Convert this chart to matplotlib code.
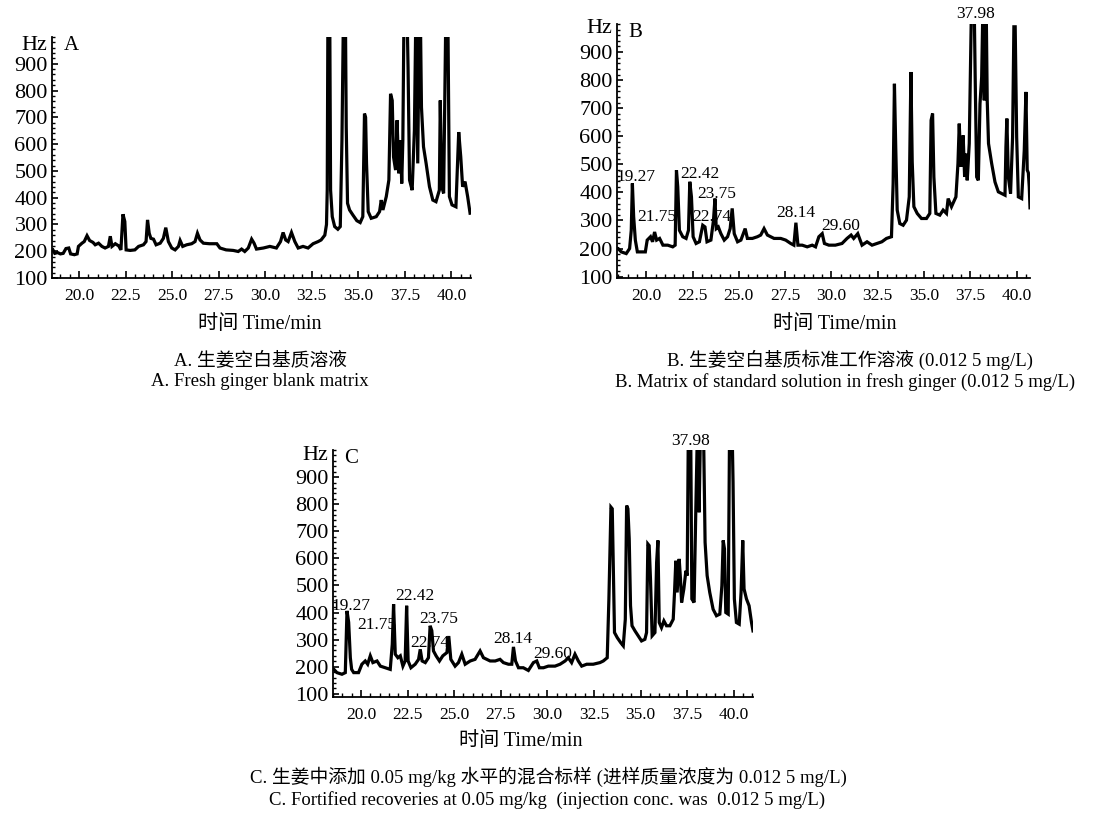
import numpy as np
import matplotlib
matplotlib.use('Agg')
import matplotlib.pyplot as plt
from matplotlib.ticker import MultipleLocator, FormatStrFormatter

plt.rcParams['font.family'] = ['Liberation Serif', 'Noto Sans CJK SC']
plt.rcParams['axes.unicode_minus'] = False

# === DATA ===
# A. blank matrix
t_a = [18.46, 18.6, 18.7, 18.85, 19.0, 19.15, 19.3, 19.45, 19.55, 19.75, 19.9, 19.97,
       20.16, 20.28, 20.43, 20.57, 20.75, 20.87, 21.05, 21.23, 21.4, 21.58, 21.68, 21.77,
       21.95, 22.13, 22.25, 22.36, 22.46, 22.53, 22.75, 23.0, 23.2, 23.46, 23.6, 23.68,
       23.77, 23.86, 24.0, 24.14, 24.36, 24.53, 24.66, 24.8, 24.98, 25.16, 25.34, 25.43,
       25.57, 25.78, 26.05, 26.23, 26.36, 26.5, 26.68, 27.0, 27.4, 27.57, 27.9, 28.28,
       28.55, 28.73, 28.9, 29.09, 29.27, 29.4, 29.53, 29.9, 30.25, 30.6, 30.82, 30.96,
       31.1, 31.23, 31.41, 31.59, 31.77, 32.03, 32.3, 32.57, 32.84, 33.0, 33.2, 33.29,
       33.33, 33.37, 33.46, 33.51, 33.6, 33.73, 33.9, 34.03, 34.12, 34.21, 34.3, 34.35,
       34.42, 34.53, 34.71, 34.92, 35.1, 35.24, 35.33, 35.39, 35.44, 35.53, 35.69, 35.96,
       36.14, 36.23, 36.32, 36.5, 36.64, 36.73, 36.82, 36.89, 37.0, 37.08, 37.17, 37.26,
       37.33, 37.39, 37.46, 37.53, 37.6, 37.67, 37.75, 37.89, 38.01, 38.1, 38.19, 38.28,
       38.32, 38.39, 38.5, 38.64, 38.82, 39.0, 39.17, 39.35, 39.4, 39.48, 39.58, 39.71,
       39.8, 39.89, 40.03, 40.24, 40.39, 40.5, 40.6, 40.73, 40.87, 41.0]
hz_a = [199, 205, 192, 195, 190, 192, 210, 212, 190, 187, 190, 218,
        230, 236, 258, 240, 233, 224, 230, 218, 212, 218, 256, 218,
        228, 220, 205, 338, 311, 205, 203, 205, 218, 224, 236, 317,
        267, 248, 245, 224, 230, 248, 288, 236, 212, 205, 218, 240,
        218, 224, 228, 236, 267, 242, 230, 228, 228, 212, 205, 203,
        199, 208, 199, 212, 245, 230, 208, 212, 218, 212, 236, 270,
        242, 236, 270, 236, 212, 218, 212, 228, 236, 242, 260, 300,
        430, 1150, 1150, 428, 329, 292, 282, 292, 614, 1150, 1150, 664,
        379, 354, 335, 314, 307, 329, 714, 700, 528, 348, 323, 329,
        348, 391, 354, 404, 466, 788, 763, 552, 503, 689, 491, 614,
        453, 614, 1150, 1150, 1150, 887, 466, 428, 651, 1150, 528, 1150,
        1150, 738, 590, 528, 441, 391, 385, 428, 763, 441, 416, 1150,
        1150, 404, 373, 366, 645, 552, 441, 460, 404, 342]

# B. matrix standard solution
t_b = [18.3, 18.48, 18.65, 18.92, 19.1, 19.19, 19.25, 19.32, 19.41, 19.52, 19.73, 19.95,
       20.05, 20.23, 20.34, 20.45, 20.56, 20.72, 20.9, 21.16, 21.43, 21.56, 21.63, 21.7,
       21.79, 21.97, 22.15, 22.28, 22.35, 22.44, 22.53, 22.69, 22.87, 23.05, 23.17, 23.28,
       23.49, 23.63, 23.71, 23.78, 23.89, 24.03, 24.21, 24.39, 24.53, 24.64, 24.75, 24.93,
       25.11, 25.34, 25.46, 25.73, 26.0, 26.18, 26.36, 26.54, 26.9, 27.26, 27.53, 27.8,
       27.97, 28.08, 28.19, 28.42, 28.69, 28.96, 29.14, 29.32, 29.5, 29.62, 29.86, 30.21,
       30.57, 30.84, 31.06, 31.2, 31.42, 31.65, 31.92, 32.19, 32.45, 32.72, 32.97, 33.24,
       33.33, 33.4, 33.47, 33.55, 33.69, 33.87, 34.05, 34.2, 34.29, 34.36, 34.45, 34.63,
       34.86, 35.13, 35.31, 35.38, 35.46, 35.53, 35.64, 35.85, 36.03, 36.21, 36.3, 36.48,
       36.72, 36.83, 36.9, 36.99, 37.06, 37.11, 37.19, 37.26, 37.33, 37.44, 37.51, 37.58,
       37.69, 37.76, 37.84, 37.93, 38.02, 38.11, 38.2, 38.25, 38.34, 38.41, 38.48, 38.65,
       38.83, 39.01, 39.19, 39.37, 39.42, 39.47, 39.55, 39.67, 39.78, 39.85, 39.92, 40.0,
       40.09, 40.27, 40.41, 40.5, 40.57, 40.63, 40.68, 40.72]
hz_b = [200, 200, 188, 182, 200, 265, 432, 313, 230, 188, 188, 188,
        230, 242, 224, 259, 230, 236, 212, 212, 206, 212, 479, 420,
        265, 242, 236, 265, 438, 384, 242, 218, 224, 283, 277, 224,
        230, 301, 378, 271, 277, 253, 230, 242, 271, 343, 253, 224,
        230, 271, 236, 236, 242, 248, 271, 248, 236, 236, 230, 218,
        212, 292, 212, 212, 206, 212, 206, 242, 253, 218, 212, 212,
        218, 236, 248, 236, 253, 212, 224, 212, 218, 224, 236, 242,
        432, 787, 562, 337, 289, 283, 301, 384, 829, 509, 349, 325,
        307, 307, 325, 657, 681, 455, 325, 319, 337, 325, 378, 349,
        384, 503, 645, 491, 538, 603, 455, 538, 443, 574, 870, 1150,
        1150, 811, 455, 443, 716, 811, 1150, 728, 1150, 728, 574, 503,
        437, 402, 396, 390, 562, 663, 455, 396, 597, 990, 990, 597,
        384, 378, 550, 758, 480, 470, 420, 345]

# C. fortified sample
t_c = [18.36, 18.55, 18.71, 18.98, 19.16, 19.25, 19.34, 19.43, 19.5, 19.61, 19.87, 20.05,
       20.23, 20.36, 20.5, 20.64, 20.86, 21.04, 21.3, 21.57, 21.68, 21.75, 21.84, 21.98,
       22.11, 22.25, 22.37, 22.45, 22.53, 22.68, 22.91, 23.09, 23.18, 23.28, 23.45, 23.62,
       23.71, 23.8, 23.89, 24.03, 24.21, 24.39, 24.61, 24.71, 24.82, 25.05, 25.23, 25.41,
       25.59, 25.86, 26.12, 26.39, 26.57, 26.93, 27.2, 27.46, 27.64, 27.91, 28.09, 28.18,
       28.29, 28.45, 28.71, 28.98, 29.25, 29.43, 29.57, 29.79, 30.05, 30.41, 30.68, 30.95,
       31.12, 31.3, 31.48, 31.66, 31.84, 32.11, 32.46, 32.82, 33.0, 33.21, 33.3, 33.41,
       33.48, 33.55, 33.6, 33.75, 33.93, 34.07, 34.18, 34.25, 34.32, 34.39, 34.46, 34.54,
       34.7, 34.87, 35.05, 35.23, 35.32, 35.39, 35.46, 35.53, 35.62, 35.77, 35.86, 35.93,
       36.0, 36.12, 36.25, 36.39, 36.57, 36.75, 36.82, 36.89, 36.96, 37.07, 37.14, 37.2,
       37.32, 37.43, 37.5, 37.57, 37.68, 37.75, 37.87, 37.96, 38.07, 38.14, 38.23, 38.36,
       38.46, 38.57, 38.71, 38.89, 39.07, 39.25, 39.36, 39.43, 39.5, 39.57, 39.7, 39.78,
       39.89, 39.96, 40.03, 40.14, 40.29, 40.39, 40.48, 40.55, 40.68, 40.82, 40.95, 41.03]
hz_c = [190, 190, 178, 172, 178, 406, 364, 233, 190, 178, 178, 209,
        221, 209, 240, 215, 221, 202, 196, 190, 283, 431, 246, 233,
        240, 202, 221, 425, 221, 196, 209, 227, 264, 221, 215, 233,
        351, 333, 258, 240, 221, 240, 252, 313, 227, 202, 215, 246,
        209, 221, 227, 258, 233, 221, 221, 227, 215, 209, 209, 273,
        221, 196, 196, 186, 215, 221, 196, 196, 202, 202, 209, 221,
        233, 215, 246, 221, 202, 209, 209, 215, 221, 233, 450, 789,
        783, 524, 326, 307, 289, 277, 375, 795, 783, 672, 425, 351,
        332, 314, 295, 301, 326, 653, 647, 524, 314, 326, 585, 666,
        363, 344, 369, 351, 351, 375, 474, 591, 474, 598, 524, 437,
        487, 554, 536, 1150, 1150, 450, 437, 770, 1150, 770, 1150, 1150,
        659, 536, 474, 412, 388, 394, 499, 666, 635, 400, 394, 1150,
        1150, 881, 450, 363, 357, 474, 666, 487, 450, 425, 363, 332]

peak_names = ['19.27', '21.75', '22.42', '22.74', '23.75', '28.14', '29.60', '37.98']
# label anchor points (time, Hz) for panels B and C
lab_t_b = [19.46, 20.54, 22.88, 23.55, 23.82, 28.05, 30.49, 37.78]
lab_v_b = [455, 311, 467, 311, 396, 325, 280, 1034]
lab_t_c = [19.46, 20.86, 22.91, 23.71, 24.19, 28.17, 30.26, 37.67]
lab_v_c = [425, 353, 462, 289, 375, 301, 246, 1033]

W, H = 1096, 817
fig = plt.figure(figsize=(W / 100, H / 100), dpi=100)


def make_axes(left, top, right, bottom):
    return fig.add_axes([left / W, 1 - bottom / H, (right - left) / W, (bottom - top) / H])


def style_ax(ax, xlim, ylim, letter, hz_y):
    ax.set_xlim(*xlim)
    ax.set_ylim(*ylim)
    for s in ['top', 'right']:
        ax.spines[s].set_visible(False)
    for s in ['left', 'bottom']:
        ax.spines[s].set_linewidth(1.3)
    ax.xaxis.set_major_locator(MultipleLocator(2.5))
    ax.xaxis.set_minor_locator(MultipleLocator(0.5))
    ax.xaxis.set_major_formatter(FormatStrFormatter('%.1f'))
    ax.yaxis.set_minor_locator(MultipleLocator(20))
    ax.set_yticks(np.arange(100, 1000, 100))
    ax.tick_params(axis='x', which='major', direction='in', length=5, width=1.2,
                   labelsize=12.5, pad=7)
    ax.tick_params(axis='x', which='minor', direction='in', length=3, width=1.0)
    ax.tick_params(axis='y', which='major', direction='in', length=4, width=1.2,
                   labelsize=16, pad=3)
    ax.tick_params(axis='y', which='minor', direction='in', length=2, width=1.0)
    ax.text(-0.012, hz_y, 'Hz', transform=ax.get_yaxis_transform(),
            ha='right', va='center', fontsize=16)
    ax.text(0.027, 0.965, letter, transform=ax.transAxes,
            ha='left', va='center', fontsize=15)


def draw(ax, t, v):
    ax.plot(t, v, color='black', linewidth=2.3, solid_joinstyle='miter')


# A
ax_a = make_axes(52, 37, 471, 278)
draw(ax_a, t_a, hz_a)
style_ax(ax_a, (18.55, 41.05), (100, 1000), 'A', 968)

# B
ax_b = make_axes(617, 24, 1030, 278)
draw(ax_b, t_b, hz_b)
style_ax(ax_b, (18.42, 40.72), (95, 1000), 'B', 983)
for name, x, y in zip(peak_names, lab_t_b, lab_v_b):
    ax_b.text(x, y, name, ha='center', va='center', fontsize=12.5, clip_on=False)

# C
ax_c = make_axes(333, 450, 753, 697)
draw(ax_c, t_c, hz_c)
style_ax(ax_c, (18.5, 41.03), (88, 1000), 'C', 980)
for name, x, y in zip(peak_names, lab_t_c, lab_v_c):
    ax_c.text(x, y, name, ha='center', va='center', fontsize=12.5, clip_on=False)


# axis titles and captions
def ftext(x, y, s, size):
    fig.text(x / W, 1 - y / H, s, ha='center', va='center', fontsize=size)


ftext(260, 325, '时间 Time/min', 14.5)
ftext(835, 325, '时间 Time/min', 14.5)
ftext(521, 742, '时间 Time/min', 14.5)

ftext(260, 360, 'A. 生姜空白基质溶液', 13.5)
ftext(260, 381, 'A. Fresh ginger blank matrix', 13.5)
ftext(850, 360, 'B. 生姜空白基质标准工作溶液 (0.012 5 mg/L)', 13.5)
ftext(845, 382, 'B. Matrix of standard solution in fresh ginger (0.012 5 mg/L)', 13.5)
ftext(548, 777, 'C. 生姜中添加 0.05 mg/kg 水平的混合标样 (进样质量浓度为 0.012 5 mg/L)', 13.5)
ftext(547, 800, 'C. Fortified recoveries at 0.05 mg/kg  (injection conc. was  0.012 5 mg/L)', 13.5)

plt.savefig('out.png', dpi=100)
